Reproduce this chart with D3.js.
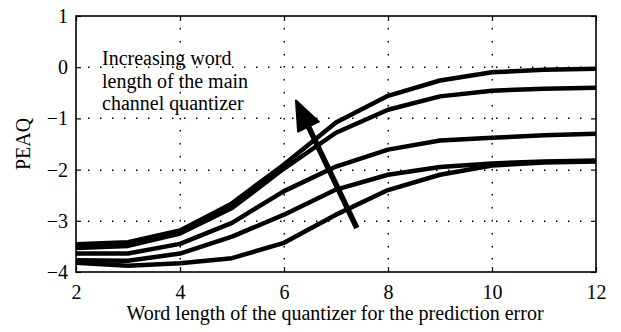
<!DOCTYPE html>
<html>
<head>
<meta charset="utf-8">
<script src="https://cdn.jsdelivr.net/npm/d3@7"></script>
<style>
  body { margin: 0; background: #fff; }
  svg { display: block; }
  text { font-family: "Liberation Serif", "Times New Roman", serif; fill: #000; }
</style>
</head>
<body>
<div id="chart"></div>
<script>
// word length of the prediction error quantizer
const wordLengths = [2, 3, 4, 5, 6, 7, 8, 9, 10, 11, 12];

// PEAQ per main channel quantizer word length (highest first)
const peaqA = [-3.46, -3.42, -3.19, -2.66, -1.9, -1.08, -0.56, -0.26, -0.1, -0.05, -0.03];
const peaqB = [-3.53, -3.49, -3.25, -2.75, -1.98, -1.28, -0.83, -0.57, -0.46, -0.42, -0.4];
const peaqC = [-3.64, -3.64, -3.45, -3.04, -2.42, -1.94, -1.61, -1.43, -1.38, -1.33, -1.3];
const peaqD = [-3.77, -3.78, -3.64, -3.31, -2.88, -2.39, -2.1, -1.95, -1.88, -1.84, -1.82];
const peaqE = [-3.82, -3.88, -3.83, -3.73, -3.43, -2.88, -2.4, -2.1, -1.92, -1.86, -1.84];
const allSeries = [peaqA, peaqB, peaqC, peaqD, peaqE];

const xTicks = [2, 4, 6, 8, 10, 12];
const yTicks = [1, 0, -1, -2, -3, -4];

const noteLines = ["Increasing word", "length of the main", "channel quantizer"];
// arrow from tail to tip, in data units
const arrowTail = [7.4, -3.14];
const arrowTip = [6.23, -0.65];

const w = 621, h = 332;
const padL = 76, padR = 596, padT = 16, padB = 272;

const svg = d3.select("#chart").append("svg")
  .attr("width", w)
  .attr("height", h);

const xScale = d3.scaleLinear().domain([2, 12]).range([padL, padR]);
const yScale = d3.scaleLinear().domain([-4, 1]).range([padB, padT]);

// dotted grid, drawn as tiny squares (matlab style ':' grid)
const grid = svg.append("g").attr("fill", "#000");
xTicks.filter(d => d > 2 && d < 12).forEach(t => {
  const gx = Math.round(xScale(t));
  grid.selectAll(null)
    .data(d3.range(padT + 12, padB - 4, 12.8))
    .enter().append("rect")
    .attr("x", gx - 0.5).attr("y", d => Math.round(d))
    .attr("width", 1.5).attr("height", 1.5);
});
yTicks.filter(d => d > -4 && d < 1).forEach(t => {
  const gy = Math.round(yScale(t));
  grid.selectAll(null)
    .data(d3.range(padL + 12, padR - 4, 12))
    .enter().append("rect")
    .attr("x", d => Math.round(d)).attr("y", gy - 0.5)
    .attr("width", 1.5).attr("height", 1.5);
});

// axes with inward ticks on all four sides
const fmt = d => d < 0 ? "\u2212" + Math.abs(d) : String(d);

const xAxis = svg.append("g")
  .attr("transform", `translate(0,${padB})`)
  .call(d3.axisBottom(xScale).tickValues(xTicks).tickSize(-5).tickPadding(13).tickFormat(fmt));
const yAxis = svg.append("g")
  .attr("transform", `translate(${padL},0)`)
  .call(d3.axisLeft(yScale).tickValues(yTicks).tickSize(-5).tickPadding(8).tickFormat(fmt));
const xTop = svg.append("g")
  .attr("transform", `translate(0,${padT})`)
  .call(d3.axisTop(xScale).tickValues(xTicks).tickSize(-5).tickFormat(""));
const yRight = svg.append("g")
  .attr("transform", `translate(${padR},0)`)
  .call(d3.axisRight(yScale).tickValues(yTicks).tickSize(-5).tickFormat(""));

[xAxis, yAxis, xTop, yRight].forEach(g => {
  g.select(".domain").remove();
  g.selectAll(".tick line").attr("stroke", "#000").attr("stroke-width", 1.2);
  g.selectAll("text").attr("font-size", 20).attr("font-family", "Liberation Serif").attr("fill", "#000");
});

// frame
svg.append("rect")
  .attr("x", padL).attr("y", padT)
  .attr("width", padR - padL).attr("height", padB - padT)
  .attr("fill", "none").attr("stroke", "#000").attr("stroke-width", 1.6);

// curves
const line = d3.line()
  .x((d, i) => xScale(wordLengths[i]))
  .y(d => yScale(d));

svg.append("g").selectAll("path")
  .data(allSeries)
  .enter().append("path")
  .attr("d", line)
  .attr("fill", "none")
  .attr("stroke", "#000")
  .attr("stroke-width", 4.5)
  .attr("stroke-linejoin", "round");

// arrow
const tx = xScale(arrowTail[0]), ty = yScale(arrowTail[1]);
const px = xScale(arrowTip[0]), py = yScale(arrowTip[1]);
const len = Math.hypot(px - tx, py - ty);
const ux = (px - tx) / len, uy = (py - ty) / len;
const headLen = 29, headHalf = 11.5;
const bx = px - ux * headLen, by = py - uy * headLen;

svg.append("line")
  .attr("x1", tx).attr("y1", ty)
  .attr("x2", bx + ux * 4).attr("y2", by + uy * 4)
  .attr("stroke", "#000").attr("stroke-width", 5.5);
svg.append("path")
  .attr("d", `M${px},${py}L${bx - uy * headHalf},${by + ux * headHalf}L${bx + uy * headHalf},${by - ux * headHalf}Z`)
  .attr("fill", "#000")
  .attr("stroke", "#000")
  .attr("stroke-width", 2)
  .attr("stroke-linejoin", "round");

// annotation text
svg.append("text")
  .attr("x", 102)
  .attr("y", 65)
  .attr("font-size", 20)
  .selectAll("tspan")
  .data(noteLines)
  .enter().append("tspan")
  .attr("x", 102)
  .attr("dy", (d, i) => i === 0 ? 0 : 22.5)
  .text(d => d);

// axis labels
svg.append("text")
  .attr("x", (padL + padR) / 2 - 1)
  .attr("y", 320)
  .attr("text-anchor", "middle")
  .attr("font-size", 20)
  .text("Word length of the quantizer for the prediction error");

svg.append("text")
  .attr("transform", `translate(30,${(padT + padB) / 2}) rotate(-90)`)
  .attr("text-anchor", "middle")
  .attr("font-size", 20)
  .text("PEAQ");
</script>
</body>
</html>
